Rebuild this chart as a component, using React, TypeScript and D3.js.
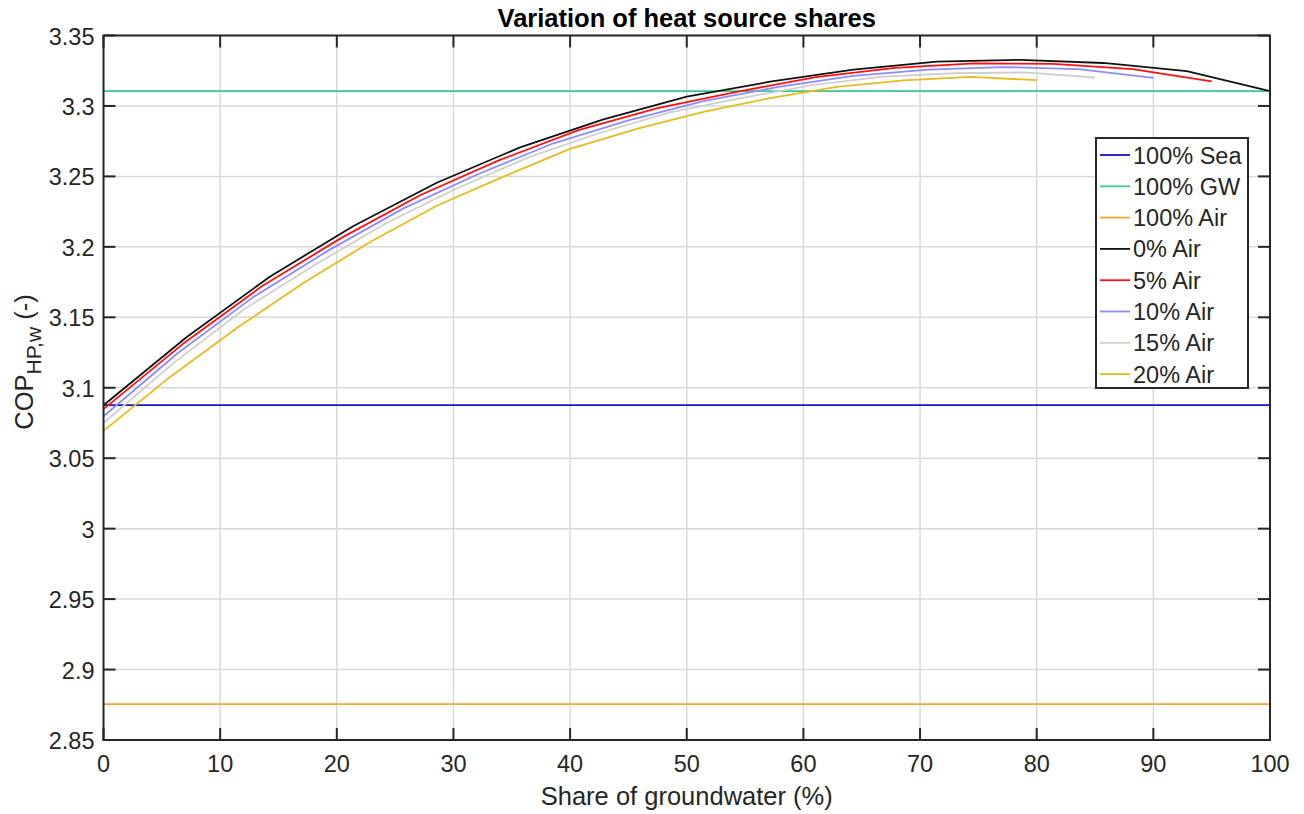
import { useEffect, useRef } from 'react';
import { scaleLinear, select, line } from 'd3';

// x: share of groundwater (%), y: COP per series
const share0Air = [0, 7.14, 14.29, 21.43, 28.57, 35.71, 42.86, 50, 57.14, 64.29, 71.43, 78.57, 85.71, 92.86, 100];
const cop0Air = [3.0876, 3.136, 3.179, 3.2148, 3.2455, 3.2706, 3.2905, 3.3066, 3.3172, 3.3258, 3.3314, 3.3327, 3.3305, 3.3247, 3.3105];

const share5Air = [0, 6.79, 13.57, 20.36, 27.14, 33.93, 40.71, 47.5, 54.29, 61.07, 67.86, 74.64, 81.43, 88.21, 95];
const cop5Air = [3.0848, 3.131, 3.172, 3.2062, 3.2366, 3.2615, 3.2828, 3.2985, 3.31, 3.3205, 3.327, 3.3302, 3.3298, 3.3262, 3.3174];

const share10Air = [0, 6.43, 12.86, 19.29, 25.71, 32.14, 38.57, 45, 51.43, 57.86, 64.29, 70.71, 77.14, 83.57, 90];
const cop10Air = [3.0798, 3.125, 3.1645, 3.1975, 3.2273, 3.2517, 3.2735, 3.2898, 3.3035, 3.3135, 3.3213, 3.3258, 3.3276, 3.3262, 3.32];

const share15Air = [0, 6.07, 12.14, 18.21, 24.29, 30.36, 36.43, 42.5, 48.57, 54.64, 60.71, 66.79, 72.86, 78.93, 85];
const cop15Air = [3.075, 3.118, 3.1562, 3.1877, 3.2171, 3.2418, 3.2635, 3.2808, 3.2955, 3.3055, 3.3148, 3.3208, 3.3232, 3.3238, 3.3202];

const share20Air = [0, 5.71, 11.43, 17.14, 22.86, 28.57, 34.29, 40, 45.71, 51.43, 57.14, 62.86, 68.57, 74.29, 80];
const cop20Air = [3.0694, 3.1077, 3.1424, 3.1743, 3.2034, 3.2292, 3.2498, 3.2695, 3.2838, 3.2958, 3.3055, 3.3135, 3.3182, 3.3206, 3.3183];

const refShare = [0, 100];
const copSea = [3.0876, 3.0876];
const copGW = [3.3105, 3.3105];
const copAir = [2.8755, 2.8755];

const seriesNames = ['100% Sea', '100% GW', '100% Air', '0% Air', '5% Air', '10% Air', '15% Air', '20% Air'];
const seriesX = [refShare, refShare, refShare, share0Air, share5Air, share10Air, share15Air, share20Air];
const seriesY = [copSea, copGW, copAir, cop0Air, cop5Air, cop10Air, cop15Air, cop20Air];
const seriesColors = ['#1414c8', '#36c990', '#f7a52c', '#111111', '#ff1010', '#8c8cff', '#cfcfcf', '#e8bb1c'];

const xTicks = [0, 10, 20, 30, 40, 50, 60, 70, 80, 90, 100];
const yTicks = [2.85, 2.9, 2.95, 3, 3.05, 3.1, 3.15, 3.2, 3.25, 3.3, 3.35];

export default function App() {
  const svgRef = useRef<SVGSVGElement>(null);

  useEffect(() => {
    if (!svgRef.current) return;
    select(svgRef.current).selectAll('*').remove();

    const width = 1304;
    const height = 814;
    const left = 103.5;
    const right = 1270;
    const top = 35.5;
    const bottom = 740;
    const axisColor = '#262626';
    const font = '"Liberation Sans", Arial, Helvetica, sans-serif';
    const tickLen = 12;

    const x = scaleLinear().domain([0, 100]).range([left, right]);
    const y = scaleLinear().domain([2.85, 3.35]).range([bottom, top]);

    const svg = select(svgRef.current)
      .attr('width', width)
      .attr('height', height)
      .style('font-family', font);

    svg.append('rect').attr('width', width).attr('height', height).attr('fill', '#fff');

    // grid
    const grid = svg.append('g');
    xTicks.forEach((t) => {
      grid.append('line')
        .attr('x1', x(t)).attr('x2', x(t))
        .attr('y1', top).attr('y2', bottom)
        .attr('stroke', '#d9d9d9').attr('stroke-width', 1.5);
    });
    yTicks.forEach((t) => {
      grid.append('line')
        .attr('x1', left).attr('x2', right)
        .attr('y1', y(t)).attr('y2', y(t))
        .attr('stroke', '#d9d9d9').attr('stroke-width', 1.5);
    });

    // series
    const plot = svg.append('g');
    seriesNames.forEach((name, i) => {
      const pts = seriesX[i].map((v, j) => [v, seriesY[i][j]] as [number, number]);
      const path = line<[number, number]>()
        .x((d) => x(d[0]))
        .y((d) => y(d[1]));
      plot.append('path')
        .datum(pts)
        .attr('d', path)
        .attr('fill', 'none')
        .attr('stroke', seriesColors[i])
        .attr('stroke-width', 1.8)
        .attr('stroke-linejoin', 'round');
    });

    // axes box
    svg.append('rect')
      .attr('x', left).attr('y', top)
      .attr('width', right - left).attr('height', bottom - top)
      .attr('fill', 'none').attr('stroke', axisColor).attr('stroke-width', 2);

    // ticks
    xTicks.forEach((t) => {
      svg.append('line')
        .attr('x1', x(t)).attr('x2', x(t))
        .attr('y1', bottom).attr('y2', bottom - tickLen)
        .attr('stroke', axisColor).attr('stroke-width', 2);
      svg.append('line')
        .attr('x1', x(t)).attr('x2', x(t))
        .attr('y1', top).attr('y2', top + tickLen)
        .attr('stroke', axisColor).attr('stroke-width', 2);
      svg.append('text')
        .attr('x', x(t)).attr('y', bottom + 32)
        .attr('text-anchor', 'middle')
        .attr('fill', axisColor)
        .attr('font-size', 23.5)
        .text(String(t));
    });
    yTicks.forEach((t) => {
      svg.append('line')
        .attr('x1', left).attr('x2', left + tickLen)
        .attr('y1', y(t)).attr('y2', y(t))
        .attr('stroke', axisColor).attr('stroke-width', 2);
      svg.append('line')
        .attr('x1', right).attr('x2', right - tickLen)
        .attr('y1', y(t)).attr('y2', y(t))
        .attr('stroke', axisColor).attr('stroke-width', 2);
      svg.append('text')
        .attr('x', left - 9).attr('y', y(t) + 9)
        .attr('text-anchor', 'end')
        .attr('fill', axisColor)
        .attr('font-size', 23.5)
        .text(String(t));
    });

    // title
    svg.append('text')
      .attr('x', (left + right) / 2).attr('y', 27)
      .attr('text-anchor', 'middle')
      .attr('font-weight', 'bold')
      .attr('font-size', 25.5)
      .attr('fill', '#000')
      .text('Variation of heat source shares');

    // x label
    svg.append('text')
      .attr('x', (left + right) / 2).attr('y', 805)
      .attr('text-anchor', 'middle')
      .attr('font-size', 25.5)
      .attr('fill', axisColor)
      .text('Share of groundwater (%)');

    // y label with subscript
    const yLabel = svg.append('text')
      .attr('transform', `translate(33, 362) rotate(-90)`)
      .attr('text-anchor', 'middle')
      .attr('font-size', 25.5)
      .attr('fill', axisColor);
    yLabel.append('tspan').text('COP');
    yLabel.append('tspan').attr('font-size', 21).attr('dy', 8).text('HP,w');
    yLabel.append('tspan').attr('dy', -8).text(' (-)');

    // legend
    const lgX = 1096;
    const lgY = 138;
    const lgW = 152;
    const rowH = 31.3;
    const lg = svg.append('g');
    lg.append('rect')
      .attr('x', lgX).attr('y', lgY)
      .attr('width', lgW).attr('height', 250)
      .attr('fill', '#fff').attr('stroke', axisColor).attr('stroke-width', 2);
    seriesNames.forEach((name, i) => {
      const cy = lgY + 17 + i * rowH;
      lg.append('line')
        .attr('x1', lgX + 4).attr('x2', lgX + 34)
        .attr('y1', cy).attr('y2', cy)
        .attr('stroke', seriesColors[i]).attr('stroke-width', 1.8);
      lg.append('text')
        .attr('x', lgX + 37).attr('y', cy + 8.5)
        .attr('font-size', 23.5)
        .attr('fill', axisColor)
        .text(name);
    });
  }, []);

  return (
    <svg ref={svgRef} style={{ position: 'fixed', left: 0, top: 0, display: 'block' }} />
  );
}
